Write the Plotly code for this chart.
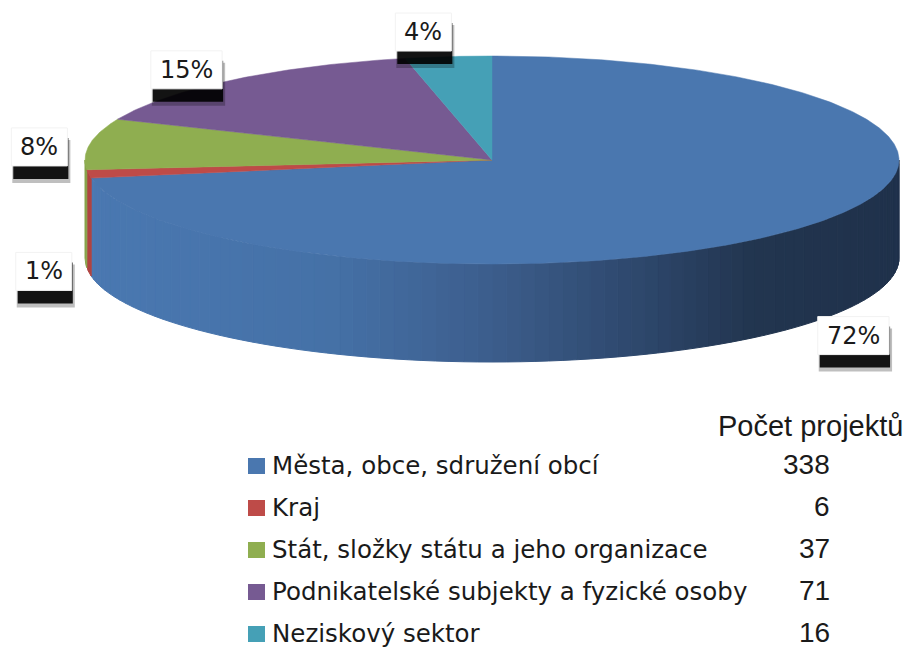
import math
import plotly.graph_objects as go

# ---- data ----
categories = ["Města, obce, sdružení obcí", "Kraj", "Stát, složky státu a jeho organizace",
              "Podnikatelské subjekty a fyzické osoby", "Neziskový sektor"]
values = [338, 6, 37, 71, 16]
percent_labels = ["72%", "1%", "8%", "15%", "4%"]
legend_title = "Počet projektů"

# ---- style ----
top_colors = ["#4A77AF", "#BE4B48", "#8FAE50", "#765A92", "#45A0B6"]
side_colors = ["#4A77AF", "#B04441", "#86A34A", "#6C5387", "#3F93A8"]
CX, CY, A, B, DEPTH = 492.0, 160.0, 407.0, 104.0, 98.0
W, H = 909, 649
LFAM = "DejaVu Sans, Verdana, sans-serif"
LSIZE = 24


def pt(theta_deg, dy=0.0):
    t = math.radians(theta_deg)
    return CX + A * math.sin(t), CY - B * math.cos(t) + dy


def arc(t1, t2, dy=0.0, step=1.0):
    n = max(2, int(abs(t2 - t1) / step) + 1)
    return [pt(t1 + (t2 - t1) * k / (n - 1), dy) for k in range(n)]


def hex2rgb(h):
    h = h.lstrip("#")
    return tuple(int(h[i:i + 2], 16) for i in (0, 2, 4))


def lerp_col(stops, f):
    for (f1, c1), (f2, c2) in zip(stops, stops[1:]):
        if f <= f2:
            u = 0 if f2 == f1 else (f - f1) / (f2 - f1)
            a, b = hex2rgb(c1), hex2rgb(c2)
            return "rgb(%d,%d,%d)" % tuple(round(a[i] + (b[i] - a[i]) * u) for i in range(3))
    return stops[-1][1]


def text_width(s, size):
    w = 0.0
    for ch in s:
        w += 0.95 if ch == "%" else 0.636
    return w * size


blue_side_stops = [(0.0, "#4A78B1"), (0.3, "#4571A7"), (0.5, "#3C5D8C"),
                   (0.7, "#2C4568"), (0.82, "#22354F"), (1.0, "#1F314B")]

total = sum(values)
angles = []
acc = 0.0
for v in values:
    a1 = acc / total * 360.0
    acc += v
    angles.append((a1, acc / total * 360.0))

fig = go.Figure()

# side faces (front half, theta 90..270)
for i, (a1, a2) in enumerate(angles):
    s1, s2 = max(a1, 90.0), min(a2, 270.0)
    if s2 <= s1:
        continue
    if i == 0:
        step = 2.0
        t = s1
        while t < s2:
            tn = min(t + step, s2)
            top = arc(t, tn, 0, 0.5)
            bot = arc(tn, t, DEPTH, 0.5)
            poly = top + bot + [top[0]]
            xm = (top[0][0] + top[-1][0]) / 2
            col = lerp_col(blue_side_stops, (xm - (CX - A)) / (2 * A))
            fig.add_trace(go.Scatter(x=[p[0] for p in poly], y=[p[1] for p in poly],
                                     mode="lines", fill="toself", fillcolor=col,
                                     line=dict(color=col, width=1), hoverinfo="skip",
                                     showlegend=False))
            t = tn
    else:
        top = arc(s1, s2, 0, 0.5)
        bot = arc(s2, s1, DEPTH, 0.5)
        poly = top + bot + [top[0]]
        fig.add_trace(go.Scatter(x=[p[0] for p in poly], y=[p[1] for p in poly],
                                 mode="lines", fill="toself", fillcolor=side_colors[i],
                                 line=dict(color=side_colors[i], width=1), hoverinfo="skip",
                                 showlegend=False))

# top faces
for i, (a1, a2) in enumerate(angles):
    poly = [(CX, CY)] + arc(a1, a2, 0, 0.5) + [(CX, CY)]
    fig.add_trace(go.Scatter(x=[p[0] for p in poly], y=[p[1] for p in poly],
                             mode="lines", fill="toself", fillcolor=top_colors[i],
                             line=dict(color=top_colors[i], width=0.5),
                             name=categories[i], hoverinfo="name", showlegend=False))

annotations = []
shapes = []
for i, (a1, a2) in enumerate(angles):
    mid = math.radians((a1 + a2) / 2)
    s, c = math.sin(mid), math.cos(mid)
    lx = CX + 455 * s - 20 * c
    if c >= 0:
        ly = CY - c * (77 + 52 * c)
    else:
        ly = CY + DEPTH - c * (95 + 40 * abs(c))
    txt = percent_labels[i]
    bw = text_width(txt, LSIZE) + 18
    bh = 38
    x0, x1, y0, y1 = lx - bw / 2, lx + bw / 2, ly - bh / 2, ly + bh / 2
    # soft drop shadow
    shapes.append(dict(type="rect", xref="x", yref="y", x0=x0 + 1, x1=x1 + 3, y0=y0 + 12, y1=y1 + 17,
                       fillcolor="rgba(0,0,0,0.25)", line=dict(width=0), layer="above"))
    shapes.append(dict(type="rect", xref="x", yref="y", x0=x0 + 2, x1=x1 + 1, y0=y0 + 10, y1=y1 + 13,
                       fillcolor="rgba(0,0,0,0.9)", line=dict(width=0), layer="above"))
    shapes.append(dict(type="rect", xref="x", yref="y", x0=x0, x1=x1, y0=y0, y1=y1,
                       fillcolor="white", line=dict(color="#f2f2f2", width=1), layer="above"))
    annotations.append(dict(x=lx, y=ly, xref="x", yref="y", text=txt, showarrow=False,
                            font=dict(family=LFAM, size=LSIZE, color="#1a1a1a")))

# legend
num_font = dict(family="Liberation Sans, Arial, sans-serif", size=28, color="#1a1a1a")
annotations.append(dict(x=905, y=426, xref="x", yref="y", text=legend_title, showarrow=False,
                        xanchor="right", yanchor="middle",
                        font=dict(family=num_font["family"], size=29, color="#1a1a1a")))
for i, name in enumerate(categories):
    yy = 466 + i * 42
    shapes.append(dict(type="rect", xref="x", yref="y", x0=248, x1=265, y0=yy - 8, y1=yy + 8,
                       fillcolor=top_colors[i], line=dict(width=0)))
    annotations.append(dict(x=270, y=yy - 1, xref="x", yref="y", text=name, showarrow=False,
                            xanchor="left", yanchor="middle",
                            font=dict(family=LFAM, size=24.5, color="#1a1a1a")))
    annotations.append(dict(x=832, y=yy - 2, xref="x", yref="y", text=str(values[i]), showarrow=False,
                            xanchor="right", yanchor="middle", font=num_font))

fig.update_layout(
    width=W, height=H, margin=dict(l=0, r=0, t=0, b=0),
    paper_bgcolor="white", plot_bgcolor="white",
    xaxis=dict(range=[0, W], visible=False, fixedrange=True),
    yaxis=dict(range=[H, 0], visible=False, fixedrange=True),
    annotations=annotations, shapes=shapes, showlegend=False,
)
fig.write_html("out.html", config={"displayModeBar": False},
               post_script="document.body.style.margin='0';document.body.style.overflow='hidden';")
